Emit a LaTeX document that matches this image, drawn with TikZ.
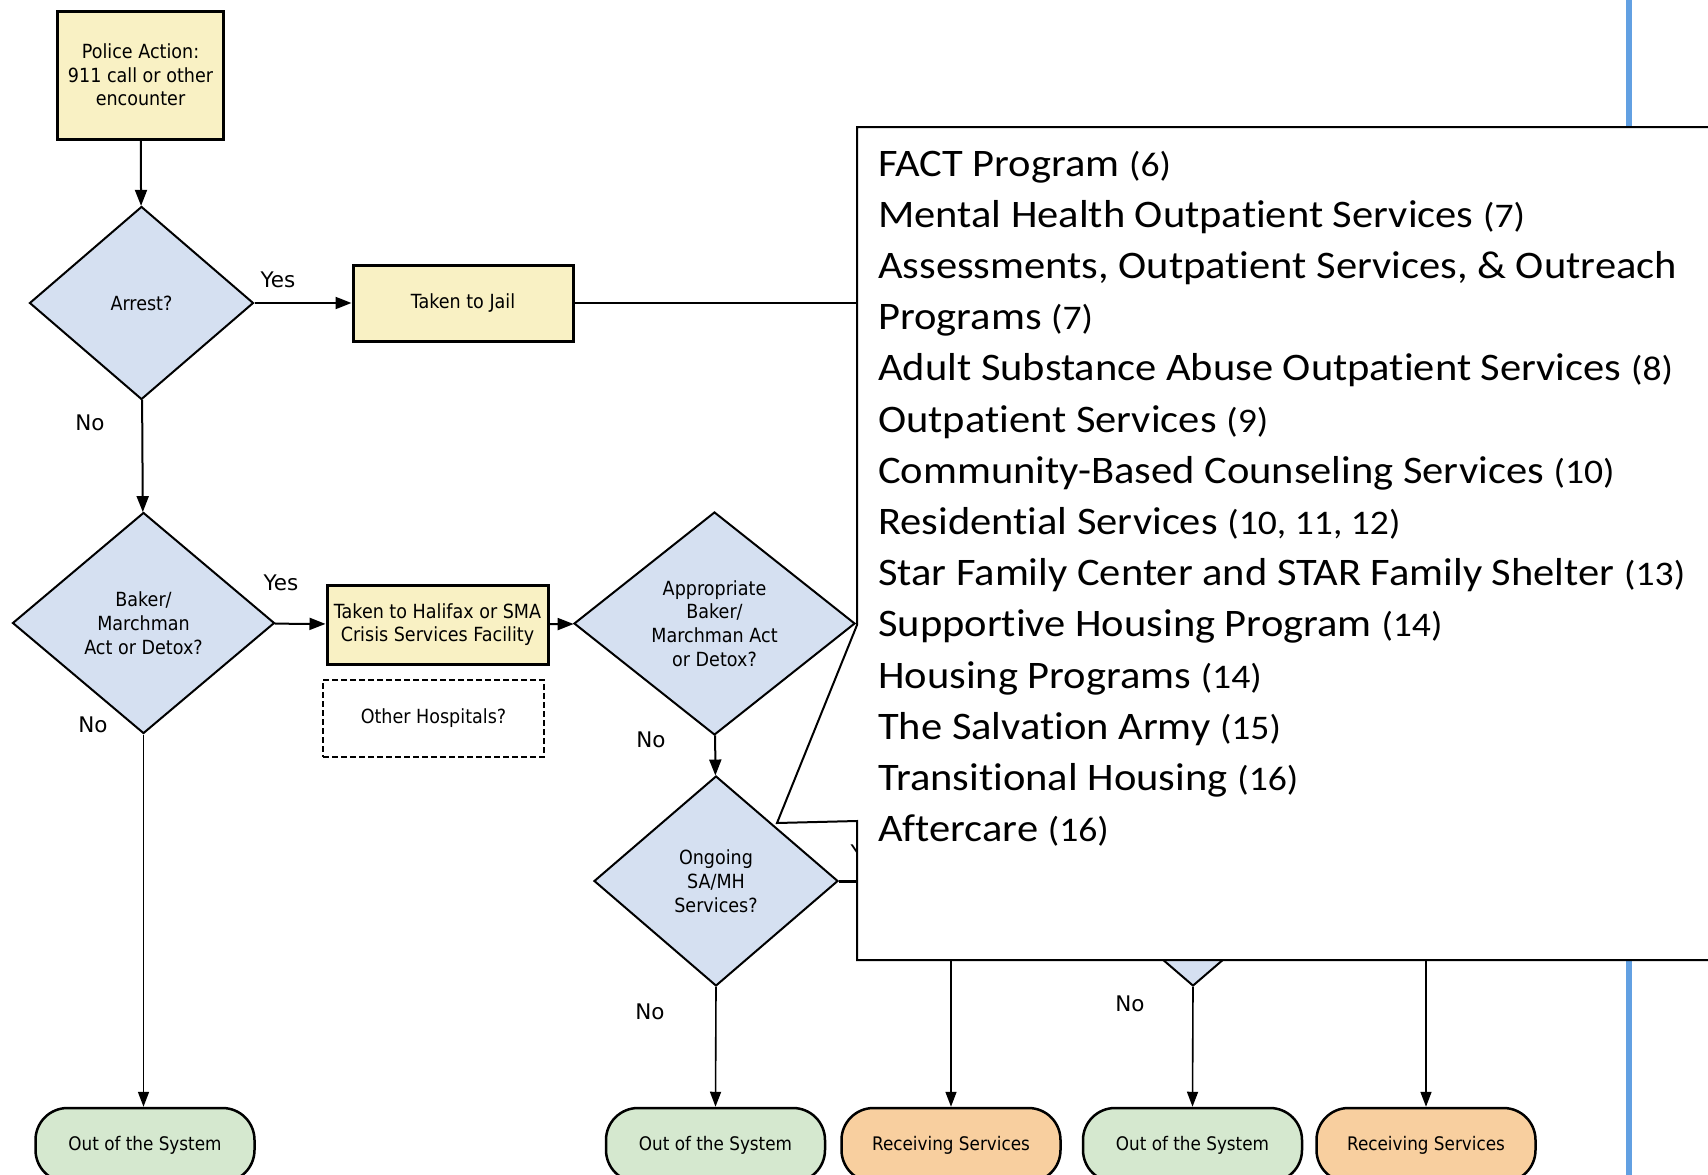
\documentclass[tikz,border=0pt]{standalone}
\usepackage{fontspec}
\setmainfont{DejaVu Sans}
\newfontfamily\flowfont[FakeStretch=0.9]{DejaVu Sans}
\newfontfamily\labfont{DejaVu Sans}
\newfontfamily\callfont[FakeStretch=1.09,Ligatures=NoCommon]{Carlito}
\usetikzlibrary{shapes.geometric,arrows.meta}
\definecolor{boxyellow}{HTML}{F9F1C4}
\definecolor{diablue}{HTML}{D5E0F1}
\definecolor{termgreen}{HTML}{D5E8CF}
\definecolor{termorange}{HTML}{F8CF9F}
\definecolor{sideblue}{HTML}{62A0E2}
\newcommand\parnum[1]{{\fontsize{34.5}{40}\selectfont #1}}
\begin{document}
\begin{tikzpicture}[x=1pt,y=-1pt,
  procbox/.style={draw=black, line width=3pt, fill=boxyellow, align=center,
    font=\flowfont\fontsize{19.5}{23.5}\selectfont, inner sep=0pt},
  otherbox/.style={draw=black, dash pattern=on 6pt off 3pt, line width=2.5pt, fill=white, align=center,
    font=\flowfont\fontsize{19.5}{23.5}\selectfont, inner sep=0pt},
  decision/.style={diamond, draw=black, line width=2pt, fill=diablue, align=center,
    font=\flowfont\fontsize{19.5}{23.8}\selectfont, inner sep=0pt},
  terminal/.style={draw=black, line width=2.5pt, rounded corners=32pt,
    minimum width=219pt, minimum height=74pt,
    font=\flowfont\fontsize{18.7}{23}\selectfont, inner sep=0pt},
  flow/.style={draw=black, line width=2pt, -{Triangle[length=16pt,width=12pt]}},
  thinflow/.style={draw=black, line width=1.6pt, -{Triangle[length=15pt,width=11pt]}},
  plainline/.style={draw=black, line width=2pt},
  lab/.style={font=\labfont\fontsize{21.5}{24}\selectfont, inner sep=0pt},
  listline/.style={anchor=base west, inner sep=0pt, font=\callfont\fontsize{39}{51}\selectfont}
]
\useasboundingbox (0,0) rectangle (1708,1175);
\fill[white] (0,0) rectangle (1708,1175);

% blue side line (behind the callout)
\coordinate (bt) at (1629,0);
\coordinate (bb) at (1629,1175);
\draw[sideblue, line width=6pt] (bt) -- (bb);

% nodes
\node[procbox, minimum width=166pt, minimum height=128pt] (police) at (140.5,75)
  {Police Action:\\911 call or other\\encounter};
\node[decision, minimum width=224pt, minimum height=193pt] (arrest) at (141.5,303) {Arrest?};
\node[procbox, minimum width=220pt, minimum height=76pt] (jail) at (463,303) {Taken to Jail};
\node[decision, minimum width=262pt, minimum height=221pt] (baker) at (143.5,623)
  {Baker/\\Marchman\\Act or Detox?};
\node[procbox, minimum width=221pt, minimum height=79pt] (halifax) at (437.5,624.5)
  {Taken to Halifax or SMA\\Crisis Services Facility};
\node[otherbox, minimum width=221pt, minimum height=77pt] (other) at (433.5,718.5) {Other Hospitals?};
\node[decision, minimum width=281pt, minimum height=223pt] (approp) at (714.5,623.5)
  {Appropriate\\Baker/\\Marchman Act\\or Detox?};
\node[decision, minimum width=244pt, minimum height=210pt] (ongoing) at (716,881)
  {Ongoing\\SA/MH\\Services?};
\node[decision, minimum width=244pt, minimum height=210pt] (hidden) at (1193,881) {};

\node[terminal, fill=termgreen] (oos1) at (145,1145) {Out of the System};
\node[terminal, fill=termgreen] (oos2) at (715.5,1145) {Out of the System};
\node[terminal, fill=termorange] (rs1) at (951,1145) {Receiving Services};
\node[terminal, fill=termgreen] (oos3) at (1192.5,1145) {Out of the System};
\node[terminal, fill=termorange] (rs2) at (1426,1145) {Receiving Services};

% connectors
\draw[flow] (police) -- (arrest);
\draw[flow] (arrest) -- (jail);
\draw[flow] (arrest) -- (baker);
\draw[flow] (baker) -- (halifax);
\draw[flow] (halifax) -- (approp);
\draw[flow] (approp) -- (ongoing);
\draw[thinflow] (baker.south) -- (baker.south |- oos1.north);
\draw[thinflow] (ongoing.south) -- (oos2.north);
\draw[thinflow] (hidden.south) -- (oos3.north);
\coordinate (rsonesrc) at (951,940);
\coordinate (rstwosrc) at (1426,940);
\draw[thinflow] (rsonesrc) -- (rs1.north);
\draw[thinflow] (rstwosrc) -- (rs2.north);
\coordinate (jailend) at (857,303);
\draw[plainline] (jail.east) -- (jailend);
\coordinate (ongoingend) at (905,881);
\draw[plainline, line width=3pt] (ongoing.east) -- (ongoingend);

% labels
\node[lab] (yes1) at (278,280) {Yes};
\node[lab] (no1) at (90,423) {No};
\node[lab] (yes2) at (281,583) {Yes};
\node[lab] (no2) at (93,725) {No};
\node[lab] (no3) at (651,740) {No};
\node[lab] (no4) at (650,1012) {No};
\node[lab] (no5) at (1130,1004) {No};
\node[lab] (yes3) at (868,853) {Yes};

% callout box
\draw[fill=white, line width=2pt] (857,127) -- (1725,127) -- (1725,960) -- (857,960)
  -- (857,821) -- (777,823) -- (857,625) -- cycle;

\node[listline] (l1) at (878,176.0) {FACT Program \parnum{(6)}};
\node[listline] (l2) at (878,227.2) {Mental Health Outpatient Services \parnum{(7)}};
\node[listline] (l3) at (878,278.4) {Assessments, Outpatient Services, \& Outreach};
\node[listline] (l4) at (878,329.6) {Programs \parnum{(7)}};
\node[listline] (l5) at (878,380.8) {Adult Substance Abuse Outpatient Services \parnum{(8)}};
\node[listline] (l6) at (878,432.0) {Outpatient Services \parnum{(9)}};
\node[listline] (l7) at (878,483.2) {Community-Based Counseling Services \parnum{(10)}};
\node[listline] (l8) at (878,534.4) {Residential Services \parnum{(10, 11, 12)}};
\node[listline] (l9) at (878,585.6) {Star Family Center and STAR Family Shelter \parnum{(13)}};
\node[listline] (l10) at (878,636.8) {Supportive Housing Program \parnum{(14)}};
\node[listline] (l11) at (878,688.0) {Housing Programs \parnum{(14)}};
\node[listline] (l12) at (878,739.2) {The Salvation Army \parnum{(15)}};
\node[listline] (l13) at (878,790.4) {Transitional Housing \parnum{(16)}};
\node[listline] (l14) at (878,841.6) {Aftercare \parnum{(16)}};
\end{tikzpicture}
\end{document}
